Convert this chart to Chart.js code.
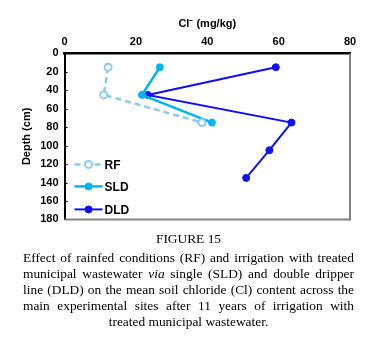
<!DOCTYPE html>
<html lang="en">
<head>
    <meta charset="UTF-8">
    <title>Soil chloride by depth</title>
    <script src="https://cdn.jsdelivr.net/npm/chart.js"></script>
    <style>
        body { margin: 0; background: #fff; width: 367px; height: 347px; overflow: hidden; }
        #wrap { position: absolute; left: 0; top: 0; width: 367px; height: 232px; }
        #caption {
            position: absolute; left: 23px; top: 231px; width: 331px;
            font-family: "Liberation Serif", "Times New Roman", serif;
            font-size: 13.4px; line-height: 16px; color: #000;
            text-align: justify; text-align-last: center;
        }
        #caption .title { text-align: center; display: block; margin-bottom: 3px; }
    </style>
</head>
<body>
    <div id="wrap"><canvas id="clChart" width="367" height="232"></canvas></div>
    <div id="caption">
        <span class="title">FIGURE 15</span>
        Effect of rainfed conditions (RF) and irrigation with treated municipal wastewater <i>via</i> single (SLD) and double dripper line (DLD) on the mean soil chloride (Cl) content across the main experimental sites after 11 years of irrigation with treated municipal wastewater.
    </div>
    <script>
        // depth (cm) and chloride (mg/kg)
        const rfDepth = [15, 45, 75];
        const rfCl = [12.2, 11, 38.5];
        const sldDepth = [15, 45, 75];
        const sldCl = [26.7, 21.7, 41.3];
        const dldDepth = [15, 45, 75, 105, 135];
        const dldCl = [59.2, 23.3, 63.6, 57.4, 50.9];

        const xTicks = [0, 20, 40, 60, 80];
        const yTicks = [0, 20, 40, 60, 80, 100, 120, 140, 160, 180];

        const toPoints = (xs, ys) => xs.map((x, i) => ({ x: x, y: ys[i] }));

        // gray frame on the right and bottom of the plot, small inner ticks on the left
        const framePlugin = {
            id: 'frame',
            beforeDatasetsDraw(chart) {
                const a = chart.chartArea, ctx = chart.ctx;
                ctx.save();
                ctx.strokeStyle = '#808080';
                ctx.lineWidth = 2;
                ctx.beginPath();
                ctx.moveTo(a.right, a.top);
                ctx.lineTo(a.right, a.bottom);
                ctx.lineTo(a.left, a.bottom);
                ctx.stroke();
                ctx.strokeStyle = '#000';
                ctx.lineWidth = 1;
                const ys = chart.scales.y;
                yTicks.slice(1, -1).forEach(v => {
                    const py = Math.round(ys.getPixelForValue(v)) + 0.5;
                    ctx.beginPath();
                    ctx.moveTo(a.left, py);
                    ctx.lineTo(a.left + 3, py);
                    ctx.stroke();
                });
                ctx.restore();
            }
        };

        // legend sits inside the plot, lower left
        const innerLegend = {
            id: 'innerLegend',
            afterDatasetsDraw(chart) {
                const a = chart.chartArea, ctx = chart.ctx;
                const rowsY = [a.bottom - 55, a.bottom - 33, a.bottom - 10];
                chart.data.datasets.forEach((ds, i) => {
                    const y = rowsY[i];
                    const x0 = a.left + 10, x1 = a.left + 38;
                    ctx.save();
                    ctx.strokeStyle = ds.borderColor;
                    ctx.lineWidth = ds.borderWidth;
                    ctx.setLineDash(ds.borderDash || []);
                    ctx.beginPath();
                    ctx.moveTo(x0, y);
                    ctx.lineTo(x1, y);
                    ctx.stroke();
                    ctx.setLineDash([]);
                    ctx.beginPath();
                    ctx.arc((x0 + x1) / 2, y, ds.pointRadius, 0, Math.PI * 2);
                    ctx.fillStyle = ds.pointBackgroundColor;
                    ctx.fill();
                    ctx.lineWidth = ds.pointBorderWidth;
                    ctx.strokeStyle = ds.pointBorderColor;
                    ctx.stroke();
                    ctx.fillStyle = '#000';
                    ctx.font = 'bold 12px "Liberation Sans", Arial, sans-serif';
                    ctx.textBaseline = 'middle';
                    ctx.fillText(ds.label, x1 + 2, y + 1);
                    ctx.restore();
                });
            }
        };

        const tickFont = { family: '"Liberation Sans", Arial, sans-serif', size: 11, weight: 'bold' };

        new Chart(document.getElementById('clChart').getContext('2d'), {
            type: 'line',
            data: {
                datasets: [
                    {
                        label: 'RF',
                        data: toPoints(rfCl, rfDepth),
                        borderColor: '#8ECAF0',
                        borderWidth: 2.5,
                        borderDash: [6, 4],
                        pointRadius: 3.5,
                        pointBackgroundColor: '#ffffff',
                        pointBorderColor: '#8ECAF0',
                        pointBorderWidth: 2,
                        fill: false
                    },
                    {
                        label: 'SLD',
                        data: toPoints(sldCl, sldDepth),
                        borderColor: '#00B4F0',
                        borderWidth: 2.5,
                        pointRadius: 3.5,
                        pointBackgroundColor: '#00B4F0',
                        pointBorderColor: '#00B4F0',
                        pointBorderWidth: 1,
                        fill: false
                    },
                    {
                        label: 'DLD',
                        data: toPoints(dldCl, dldDepth),
                        borderColor: '#1010F0',
                        borderWidth: 2,
                        pointRadius: 3.5,
                        pointBackgroundColor: '#1010F0',
                        pointBorderColor: '#1010F0',
                        pointBorderWidth: 1,
                        fill: false
                    }
                ]
            },
            options: {
                responsive: false,
                animation: false,
                layout: { padding: { left: 20, right: 17, top: 17, bottom: 9 } },
                plugins: {
                    legend: { display: false },
                    tooltip: { enabled: false }
                },
                scales: {
                    x: {
                        type: 'linear',
                        position: 'top',
                        min: 0,
                        max: 80,
                        afterBuildTicks: axis => { axis.ticks = xTicks.map(v => ({ value: v })); },
                        ticks: { color: '#000', font: tickFont, padding: 5 },
                        grid: { drawOnChartArea: false, drawTicks: false },
                        border: { color: '#000', width: 2.5 },
                        title: {
                            display: true,
                            text: 'Cl\u207B (mg/kg)',
                            color: '#000',
                            font: { family: '"Liberation Sans", Arial, sans-serif', size: 11, weight: 'bold' },
                            padding: { top: 0, bottom: 0 }
                        }
                    },
                    y: {
                        type: 'linear',
                        reverse: true,
                        min: 0,
                        max: 180,
                        afterBuildTicks: axis => { axis.ticks = yTicks.map(v => ({ value: v })); },
                        ticks: { color: '#000', font: tickFont, padding: 6 },
                        grid: { drawOnChartArea: false, drawTicks: false },
                        border: { color: '#000', width: 2 },
                        title: {
                            display: true,
                            text: 'Depth (cm)',
                            color: '#000',
                            font: { family: '"Liberation Sans", Arial, sans-serif', size: 11, weight: 'bold' },
                            padding: { top: 0, bottom: 1 }
                        }
                    }
                }
            },
            plugins: [framePlugin, innerLegend]
        });
    </script>
</body>
</html>
